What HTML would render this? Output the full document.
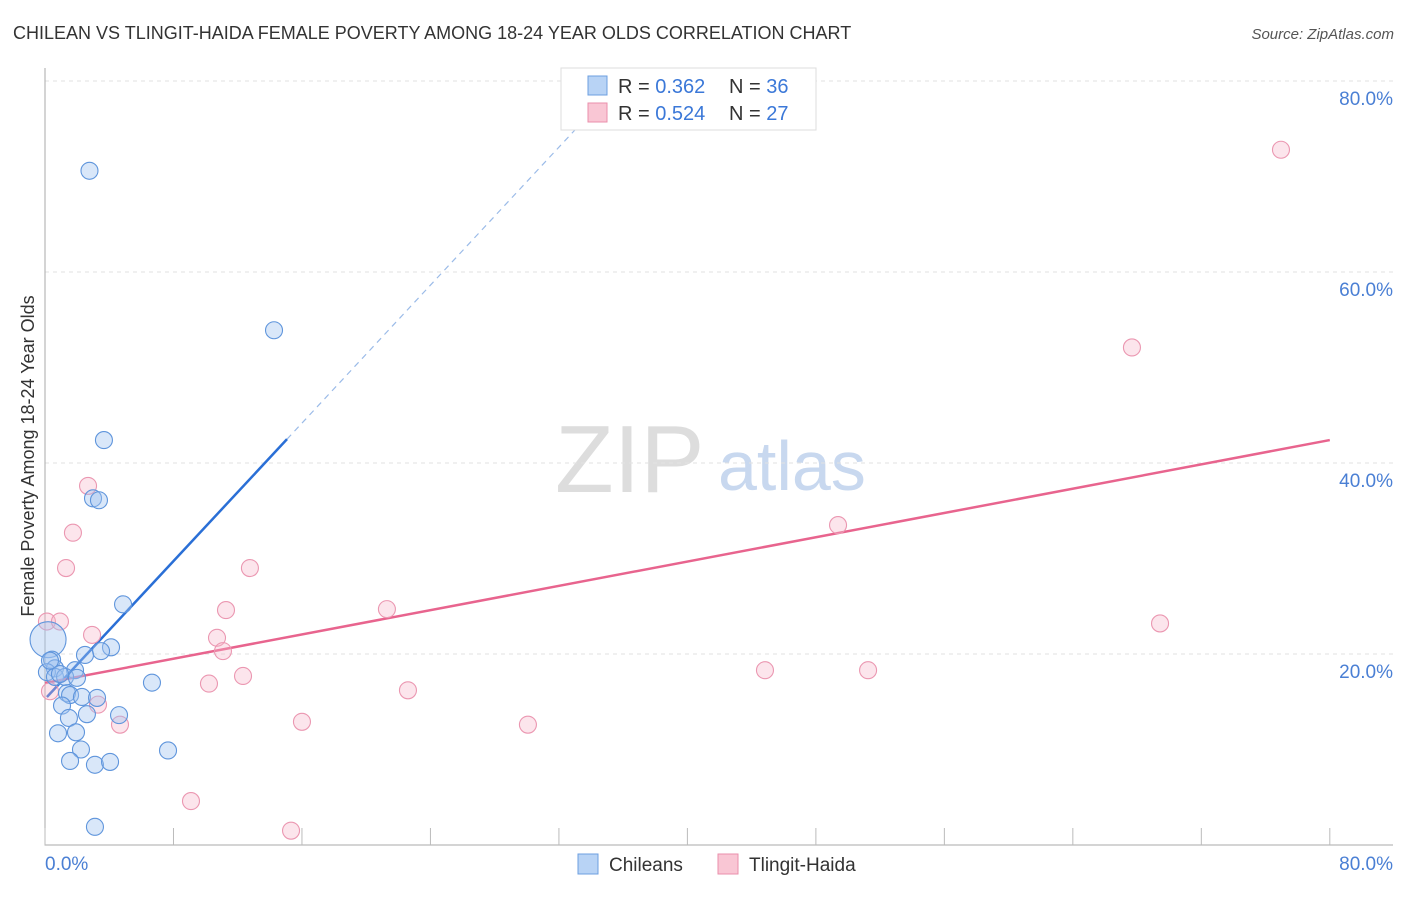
<!DOCTYPE html>
<html><head><meta charset="utf-8"><style>
body{margin:0;background:#fff;font-family:"Liberation Sans",sans-serif;}
svg text{font-family:"Liberation Sans",sans-serif;}
</style></head><body>
<svg id="chart" width="1406" height="892" xmlns="http://www.w3.org/2000/svg">
<text x="13" y="39" font-size="18" fill="#333">CHILEAN VS TLINGIT-HAIDA FEMALE POVERTY AMONG 18-24 YEAR OLDS CORRELATION CHART</text>
<text x="1394" y="39" font-size="15" fill="#555" text-anchor="end" font-style="italic">Source: ZipAtlas.com</text>
<text x="555" y="492" font-size="96" fill="#ddd" font-family="Liberation Serif">ZIP</text>
<text x="718" y="490" font-size="70" fill="#c8d8ef">atlas</text>
<g id="grid"></g><g id="axes"></g><g id="lines"></g><g id="pts"></g>
<text transform="translate(34,456) rotate(-90)" font-size="18" fill="#333" text-anchor="middle">Female Poverty Among 18-24 Year Olds</text>
<g>
<rect x="561" y="68" width="255" height="62" fill="#fff" stroke="#ddd"/>
<rect x="588" y="76" width="19" height="19" fill="#b8d3f5" stroke="#6c9fe0"/>
<rect x="588" y="103" width="19" height="19" fill="#f9c6d4" stroke="#ea8fab"/>
<text x="618" y="93" font-size="20" fill="#333">R = <tspan fill="#3b78d8">0.362</tspan></text>
<text x="729" y="93" font-size="20" fill="#333">N = <tspan fill="#3b78d8">36</tspan></text>
<text x="618" y="120" font-size="20" fill="#333">R = <tspan fill="#3b78d8">0.524</tspan></text>
<text x="729" y="120" font-size="20" fill="#333">N = <tspan fill="#3b78d8">27</tspan></text>
</g>
<g>
<rect x="578" y="854" width="20" height="20" fill="#b8d3f5" stroke="#6c9fe0"/>
<text x="609" y="871" font-size="19" fill="#333">Chileans</text>
<rect x="718" y="854" width="20" height="20" fill="#f9c6d4" stroke="#ea8fab"/>
<text x="749" y="871" font-size="19" fill="#333">Tlingit-Haida</text>
</g>
</svg>
<script>
const blueX=[2.77,14.26,3.67,2.99,3.36,4.86,4.11,3.49,2.49,0.19,0.44,0.62,0.12,0.62,1.87,1.25,1.99,6.66,1.37,1.56,2.30,3.24,1.06,2.61,4.61,1.49,1.93,0.81,2.24,1.56,3.11,4.05,7.66,3.11,0.31,0.93];
const blueY=[70.6,53.9,42.4,36.3,36.1,25.2,20.7,20.3,19.9,21.5,19.4,18.5,18.1,17.6,18.3,17.6,17.5,17.0,15.9,15.7,15.5,15.4,14.6,13.7,13.6,13.3,11.8,11.7,10.0,8.8,8.4,8.7,9.9,1.9,19.3,17.9];
const pinkX=[76.96,67.68,2.68,1.74,1.31,12.76,49.38,11.27,21.29,0.12,0.93,2.93,10.71,11.08,69.43,44.83,51.25,12.33,10.21,22.60,0.31,3.30,4.67,16.00,30.07,9.09,15.32];
const pinkY=[72.8,52.1,37.6,32.7,29.0,29.0,33.5,24.6,24.7,23.4,23.4,22.0,21.7,20.3,23.2,18.3,18.3,17.7,16.9,16.2,16.1,14.7,12.6,12.9,12.6,4.6,1.5];
const xTicks=[0,10,20,30,40,50,60,70,80];
const yTicks=[20,40,60,80];
const X=v=>45+v*16.06, Y=v=>845-v*9.55;
const NS="http://www.w3.org/2000/svg";
function mk(p,t,a){const e=document.createElementNS(NS,t);for(const k in a)e.setAttribute(k,a[k]);document.getElementById(p).appendChild(e);return e;}
yTicks.forEach(t=>{
 const l=mk('grid','line',{x1:45,x2:1393,y1:Y(t),y2:Y(t),stroke:'#e2e2e2','stroke-dasharray':'4,4'});
 
 
 const tx=mk('grid','text',{x:1393,y:Y(t)+24,'font-size':19,fill:'#4a7fd4','text-anchor':'end'});tx.textContent=t.toFixed(1)+'%';
 
 
});
const ax=mk('axes','path',{d:'M45,68V845H1393',fill:'none',stroke:'#aaa'});


for(let i=0;i<=10;i++){const t=mk('axes','line',{x1:X(i*8),x2:X(i*8),y1:828,y2:845,stroke:'#bbb'});
 
 }
[[0,'0.0%','start',45],[80,'80.0%','end',1393]].forEach(d=>{const t=mk('axes','text',{x:d[3],y:870,'font-size':19,fill:'#4a7fd4','text-anchor':d[2]});t.textContent=d[1];
 
 });
const bi=15.28,bs=1.806,pi=16.96,ps=0.318;
let l=mk('lines','line',{x1:X(0.12),y1:Y(bi+bs*0.12),x2:X(15.07),y2:Y(bi+bs*15.07),stroke:'#2a6fd6','stroke-width':2.5});


l=mk('lines','line',{x1:X(15.07),y1:Y(bi+bs*15.07),x2:X(33.3),y2:Y(bi+bs*33.3),stroke:'#9bbbe8','stroke-width':1.2,'stroke-dasharray':'6,5'});


l=mk('lines','line',{x1:X(0),y1:Y(pi),x2:X(80),y2:Y(pi+ps*80),stroke:'#e8648e','stroke-width':2.5});


pinkX.forEach((x,i)=>{const c=mk('pts','circle',{cx:X(x),cy:Y(pinkY[i]),r:8.5,fill:'rgba(247,180,200,0.35)',stroke:'#eb97b1','stroke-width':1.1});
 
 });
blueX.forEach((x,i)=>{const c=mk('pts','circle',{cx:X(x),cy:Y(blueY[i]),r:i==9?18:8.5,fill:'rgba(160,196,240,0.4)',stroke:'#5f95dc','stroke-width':1.1});
 
 });
</script>
</body></html>
